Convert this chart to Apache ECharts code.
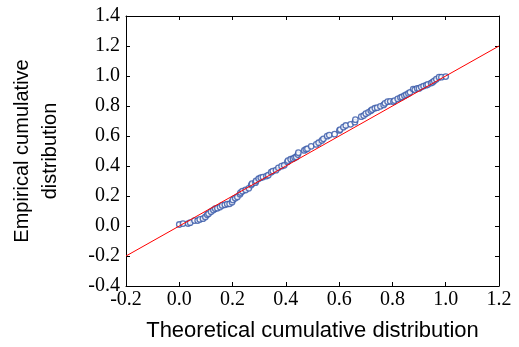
<!DOCTYPE html>
<html>
<head>
<meta charset="utf-8">
<script src="https://cdn.jsdelivr.net/npm/echarts@6/dist/echarts.min.js"></script>
<style>
  html, body { margin: 0; padding: 0; background: #fff; }
  #chart { width: 519px; height: 347px; }
</style>
</head>
<body>
<div id="chart"></div>
<script>
// Theoretical vs empirical cumulative probabilities (P-P plot)
const theoretical = [
  0.00, 0.014, 0.033, 0.041, 0.057, 0.069, 0.077, 0.089, 0.098, 0.105,
  0.110, 0.119, 0.128, 0.135, 0.143, 0.153, 0.161, 0.171, 0.180, 0.189,
  0.198, 0.201, 0.210, 0.218, 0.228, 0.230, 0.237, 0.249, 0.261, 0.270,
  0.273, 0.286, 0.288, 0.298, 0.306, 0.314, 0.327, 0.334, 0.345, 0.351,
  0.363, 0.372, 0.384, 0.394, 0.406, 0.408, 0.418, 0.427, 0.433, 0.439,
  0.445, 0.447, 0.469, 0.475, 0.481, 0.495, 0.514, 0.523, 0.535, 0.541,
  0.555, 0.563, 0.583, 0.601, 0.604, 0.616, 0.625, 0.643, 0.659, 0.661,
  0.683, 0.692, 0.700, 0.710, 0.719, 0.724, 0.734, 0.743, 0.755, 0.767,
  0.772, 0.782, 0.792, 0.804, 0.808, 0.820, 0.830, 0.836, 0.845, 0.852,
  0.860, 0.866, 0.878, 0.884, 0.893, 0.900, 0.908, 0.917, 0.927, 0.933,
  0.945, 0.951, 0.957, 0.965, 0.975, 0.984, 1.000
];
const empirical = [
  0.010, 0.016, 0.016, 0.022, 0.036, 0.036, 0.044, 0.049, 0.060, 0.075,
  0.082, 0.095, 0.106, 0.115, 0.119, 0.126, 0.137, 0.141, 0.146, 0.148,
  0.159, 0.174, 0.185, 0.194, 0.212, 0.223, 0.232, 0.240, 0.251, 0.273,
  0.282, 0.289, 0.300, 0.315, 0.322, 0.326, 0.333, 0.339, 0.359, 0.366,
  0.372, 0.388, 0.399, 0.405, 0.427, 0.436, 0.445, 0.449, 0.456, 0.460,
  0.476, 0.489, 0.504, 0.511, 0.515, 0.531, 0.544, 0.555, 0.570, 0.581,
  0.599, 0.606, 0.612, 0.637, 0.643, 0.659, 0.670, 0.678, 0.692, 0.709,
  0.729, 0.736, 0.749, 0.758, 0.769, 0.776, 0.785, 0.789, 0.798, 0.807,
  0.818, 0.829, 0.831, 0.829, 0.836, 0.847, 0.856, 0.860, 0.869, 0.875,
  0.884, 0.891, 0.913, 0.908, 0.917, 0.917, 0.926, 0.933, 0.939, 0.944,
  0.953, 0.959, 0.968, 0.979, 0.992, 0.992, 0.996
];
// Reference line y = x across the full axis range
const refLine = [-0.2, 1.2];

const xTitle = 'Theoretical cumulative distribution';
const yTitle = 'Empirical cumulative\ndistribution';

const points = theoretical.map((x, i) => [x, empirical[i]]);
const linePts = refLine.map(v => [v, v]);

const tickFont = { fontFamily: 'Liberation Serif', fontSize: 20, color: '#000' };
const baseAxis = {
  axisLine: { show: true, onZero: false, lineStyle: { color: '#000', width: 1 } },
  axisTick: { show: true, inside: true, length: 4, lineStyle: { color: '#000' } },
  splitLine: { show: false }
};
const fmt = v => v.toFixed(1);

const chart = echarts.init(document.getElementById('chart'), null, { renderer: 'canvas' });
chart.setOption({
  animation: false,
  backgroundColor: '#fff',
  grid: { left: 112, right: 20, top: 16, bottom: 58, containLabel: false },
  xAxis: [
    Object.assign({}, baseAxis, {
      type: 'value', min: -0.2, max: 1.2, interval: 0.2, position: 'bottom',
      axisLabel: Object.assign({ margin: 4, formatter: fmt }, tickFont),
      name: xTitle, nameLocation: 'middle', nameGap: 34,
      nameTextStyle: { fontFamily: 'Liberation Sans', fontSize: 22, color: '#000' }
    }),
    Object.assign({}, baseAxis, {
      type: 'value', min: -0.2, max: 1.2, interval: 0.2, position: 'top',
      axisLabel: { show: false }
    })
  ],
  yAxis: [
    Object.assign({}, baseAxis, {
      type: 'value', min: -0.4, max: 1.4, interval: 0.2, position: 'left',
      axisLabel: Object.assign({ margin: 6, formatter: fmt }, tickFont),
      name: yTitle, nameLocation: 'middle', nameGap: 62, nameRotate: 90,
      nameTextStyle: { fontFamily: 'Liberation Sans', fontSize: 20, lineHeight: 28, color: '#000' }
    }),
    Object.assign({}, baseAxis, {
      type: 'value', min: -0.4, max: 1.4, interval: 0.2, position: 'right',
      axisLabel: { show: false }
    })
  ],
  series: [
    {
      type: 'scatter',
      xAxisIndex: 0, yAxisIndex: 0,
      data: points,
      symbol: 'circle',
      symbolSize: 5.5,
      itemStyle: { color: '#fff', borderColor: '#3456a8', borderWidth: 1.3 },
      z: 2
    },
    {
      type: 'line',
      xAxisIndex: 0, yAxisIndex: 0,
      data: linePts,
      showSymbol: false,
      lineStyle: { color: '#ff0000', width: 1 },
      z: 3
    }
  ]
});
</script>
</body>
</html>
